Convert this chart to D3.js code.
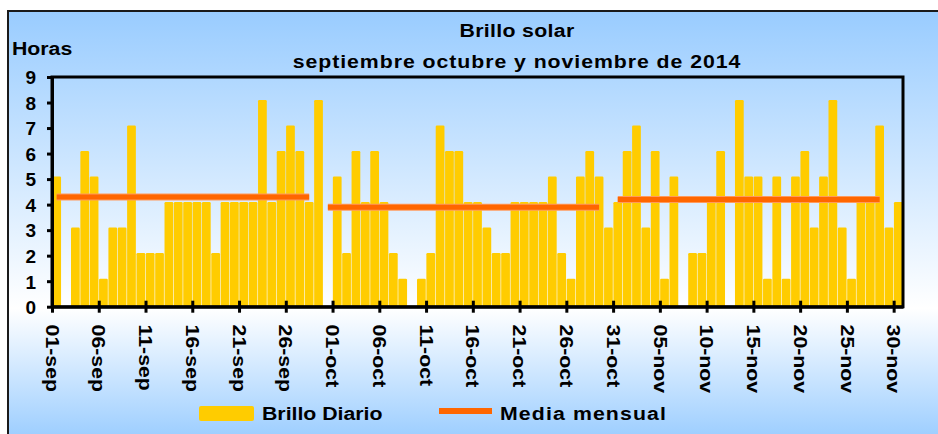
<!DOCTYPE html>
<html>
<head>
<meta charset="utf-8">
<script src="https://cdn.jsdelivr.net/npm/d3@7/dist/d3.min.js"></script>
<style>
body { margin: 0; background: #fff; }
svg text { font-family: "Liberation Sans", Arial, sans-serif; font-weight: bold; fill: #000; }
</style>
</head>
<body>
<div id="chart"></div>
<script>
// horas de brillo solar por dia (null = sin dato)
var sepHoras = [5.1, null, 3.1, 6.1, 5.1, 1.1, 3.1, 3.1, 7.1, 2.1, 2.1, 2.1, 4.1, 4.1, 4.1,
	4.1, 4.1, 2.1, 4.1, 4.1, 4.1, 4.1, 8.1, 4.1, 6.1, 7.1, 6.1, 4.1, 8.1, null];
var octHoras = [5.1, 2.1, 6.1, 4.1, 6.1, 4.1, 2.1, 1.1, null, 1.1, 2.1, 7.1, 6.1, 6.1, 4.1, 4.1,
	3.1, 2.1, 2.1, 4.1, 4.1, 4.1, 4.1, 5.1, 2.1, 1.1, 5.1, 6.1, 5.1, 3.1, 4.1];
var novHoras = [6.1, 7.1, 3.1, 6.1, 1.1, 5.1, null, 2.1, 2.1, 4.1, 6.1, null, 8.1, 5.1, 5.1,
	1.1, 5.1, 1.1, 5.1, 6.1, 3.1, 5.1, 8.1, 3.1, 1.1, 4.1, 4.1, 7.1, 3.1, 4.1];

// media mensual y dias (indice desde 01-sep) que cubre cada tramo
var mediaMensual = [4.3, 3.9, 4.2];
var mediaDesde = [0, 29, 60];
var mediaHasta = [27, 58, 88];

var tickLabels = ["01-sep", "06-sep", "11-sep", "16-sep", "21-sep", "26-sep", "01-oct", "06-oct",
	"11-oct", "16-oct", "21-oct", "26-oct", "31-oct", "05-nov", "10-nov", "15-nov", "20-nov",
	"25-nov", "30-nov"];
var yTicks = [0, 1, 2, 3, 4, 5, 6, 7, 8, 9];

var horas = sepHoras.concat(octHoras, novHoras);

var W = 938, H = 434;
var plot = {left: 52, right: 903, top: 77, bottom: 306.7};
var stretch = 1.12; // Excel text renders a bit wide

var svg = d3.select("#chart").append("svg")
	.attr("width", W)
	.attr("height", H);

var grad = svg.append("defs").append("linearGradient")
	.attr("id", "fondo")
	.attr("gradientUnits", "userSpaceOnUse")
	.attr("x1", 0).attr("y1", 11).attr("x2", 0).attr("y2", 442);
grad.append("stop").attr("offset", 0).attr("stop-color", "#99ccff");
grad.append("stop").attr("offset", 0.69).attr("stop-color", "#ffffff");
grad.append("stop").attr("offset", 1).attr("stop-color", "#99ccff");

// chart area
svg.append("rect")
	.attr("x", 8).attr("y", 11)
	.attr("width", 945).attr("height", 440)
	.attr("fill", "url(#fondo)")
	.attr("stroke", "#1a1a1a")
	.attr("stroke-width", 2);

var x = d3.scaleLinear()
	.domain([0, horas.length])
	.range([plot.left, plot.right]);

var y = d3.scaleLinear()
	.domain([0, 9])
	.range([plot.bottom, plot.top]);

// bars
var dayW = x(1) - x(0);
svg.append("g").attr("class", "bars")
	.selectAll("rect")
	.data(horas.map(function(v, i) { return {i: i, v: v}; }).filter(function(d) { return d.v != null; }))
	.enter().append("rect")
	.attr("x", function(d) { return x(d.i) + 0.3; })
	.attr("y", function(d) { return y(d.v); })
	.attr("width", dayW - 0.6)
	.attr("height", function(d) { return y(0) - y(d.v); })
	.attr("rx", 1.2)
	.attr("fill", "#ffcc00");

// monthly mean
var gm = svg.append("g").attr("class", "media");
mediaMensual.forEach(function(m, k) {
	gm.append("line")
		.attr("x1", x(mediaDesde[k] + 0.5))
		.attr("x2", x(mediaHasta[k] + 0.5))
		.attr("y1", y(m)).attr("y2", y(m))
		.attr("stroke", "#ff9a5c")
		.attr("stroke-width", 7);
	gm.append("line")
		.attr("x1", x(mediaDesde[k] + 0.5))
		.attr("x2", x(mediaHasta[k] + 0.5))
		.attr("y1", y(m)).attr("y2", y(m))
		.attr("stroke", "#ff6600")
		.attr("stroke-width", 5);
});

// plot frame
svg.append("rect")
	.attr("x", plot.left).attr("y", plot.top)
	.attr("width", plot.right - plot.left)
	.attr("height", plot.bottom - plot.top)
	.attr("fill", "none")
	.attr("stroke", "#000")
	.attr("stroke-width", 3);

// Y axis
var yAxis = d3.axisLeft(y).tickValues(yTicks).tickFormat(d3.format("d"))
	.tickSizeInner(5).tickSizeOuter(0).tickPadding(11);
var gy = svg.append("g")
	.attr("transform", "translate(" + plot.left + ",0)")
	.call(yAxis);
gy.select(".domain").attr("stroke", "#000").attr("stroke-width", 3);
gy.selectAll(".tick line").attr("stroke", "#000").attr("stroke-width", 3);
gy.selectAll(".tick text")
	.style("font-size", "19px")
	.attr("dy", "0.36em");

// X axis
var xAxis = d3.axisBottom(x)
	.tickValues(d3.range(0, horas.length, 5))
	.tickFormat(function(d, i) { return tickLabels[i]; })
	.tickSizeInner(6).tickSizeOuter(0);
var gx = svg.append("g")
	.attr("transform", "translate(0," + plot.bottom + ")")
	.call(xAxis);
gx.select(".domain").attr("stroke", "#000").attr("stroke-width", 3);
gx.selectAll(".tick line")
	.attr("stroke", "#000").attr("stroke-width", 3)
	.attr("y1", -6).attr("y2", 6);
gx.selectAll(".tick text")
	.attr("transform", "rotate(90) scale(" + stretch + ",1)")
	.attr("x", 16).attr("y", 0).attr("dy", "0.36em")
	.attr("text-anchor", "start")
	.style("font-size", "19px");

// stretched label helper
function label(px, py, txt, anchor, spacing) {
	return svg.append("text")
		.attr("transform", "translate(" + px + "," + py + ") scale(" + stretch + ",1)")
		.attr("text-anchor", anchor)
		.style("font-size", "19px")
		.style("letter-spacing", spacing + "px")
		.text(txt);
}

// titles
label(517, 37, "Brillo  solar", "middle", 0.3);
label(517, 68, "septiembre  octubre y noviembre de 2014", "middle", 0.85);
label(12, 55, "Horas", "start", 0);

// legend
svg.append("rect")
	.attr("x", 199).attr("y", 406)
	.attr("width", 55).attr("height", 15)
	.attr("rx", 2)
	.attr("fill", "#ffcc00");
label(262, 420, "Brillo Diario", "start", 0);
svg.append("line")
	.attr("x1", 439).attr("x2", 492)
	.attr("y1", 411).attr("y2", 411)
	.attr("stroke", "#ff6600")
	.attr("stroke-width", 6);
label(500, 420, "Media mensual", "start", 1);
</script>
</body>
</html>
